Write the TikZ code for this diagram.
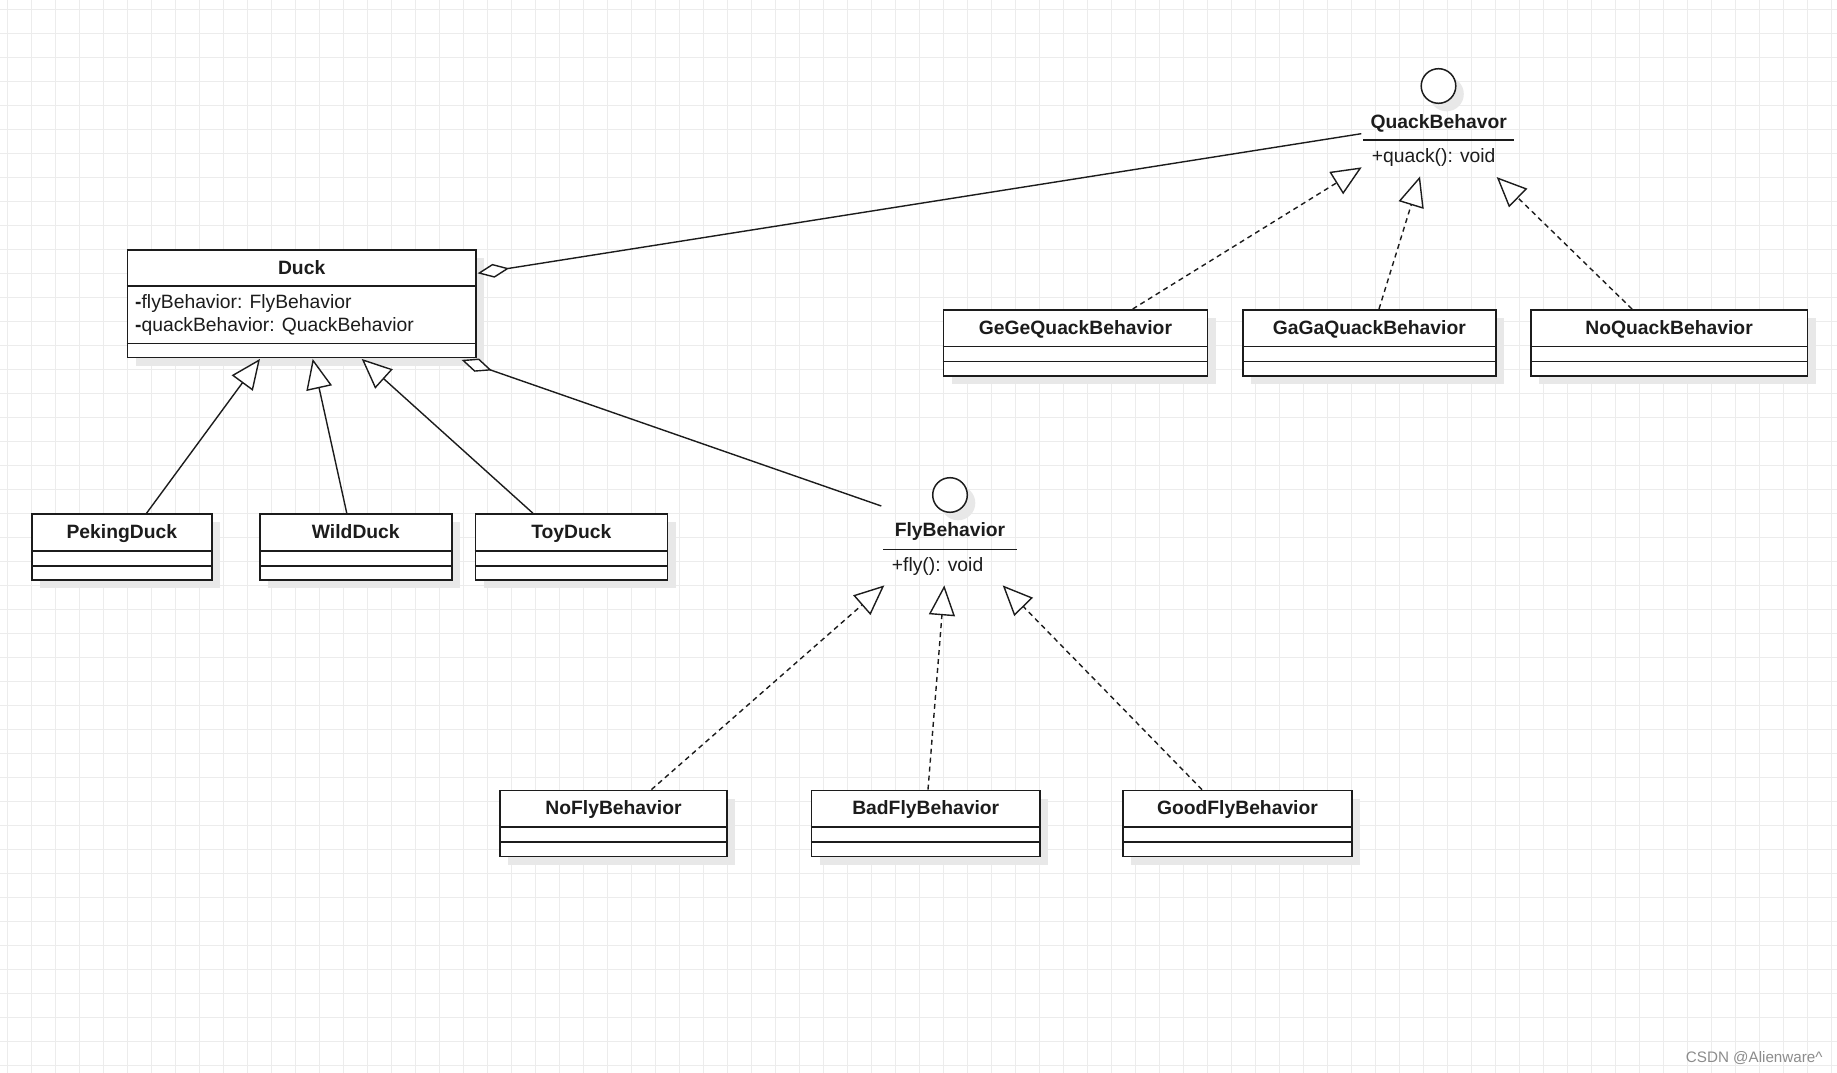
\documentclass[tikz,border=0pt]{standalone}
\usepackage{fontspec}
\setmainfont{Liberation Sans}
\usetikzlibrary{arrows.meta,calc}
\definecolor{gridc}{HTML}{ECECEC}
\definecolor{shadc}{HTML}{E8E8E8}
\definecolor{inkc}{HTML}{1C1C1C}
\tikzset{
  clsbox/.style={draw=inkc, line width=1.6pt, fill=white, inner sep=0pt, anchor=north west, minimum height=66pt},
  sepline/.style={draw=inkc, line width=1.4pt},
  clsname/.style={inner sep=0pt, anchor=base, font=\fontsize{19.3pt}{23pt}\selectfont\bfseries, text=inkc},
  clsattr/.style={inner sep=0pt, anchor=base west, font=\fontsize{19.3pt}{23pt}\selectfont, text=inkc},
  shad/.style={fill=shadc},
  conn/.style={draw=inkc, line width=1.4pt},
  inh/.style={conn, -{Triangle[open, fill=white, length=30pt, width=26pt]}},
  real/.style={conn, dash pattern=on 5pt off 4pt, -{Triangle[open, fill=white, length=30pt, width=26pt, line width=1.4pt]}},
  aggr/.style={conn, {Diamond[open, fill=white, length=32pt, width=14pt]}-},
  iface/.style={draw=none, inner sep=0pt, anchor=north west},
  ifcircle/.style={circle, draw=inkc, line width=1.5pt, fill=white, inner sep=0pt, minimum size=34.6pt},
}
\newcommand\UMLclass[5]{% name, x, y, width, label
  \fill[shad] (#2+9,#3+9) rectangle (#2+#4+9,#3+66+9);
  \node[clsbox, minimum width=#4pt] (#1) at (#2,#3) {};
  \node[clsname] at ($(#1.north)+(0,25)$) {#5};
  \draw[sepline] ($(#1.north west)+(0,37.5)$) -- ($(#1.north east)+(0,37.5)$);
  \draw[sepline] ($(#1.north west)+(0,52.5)$) -- ($(#1.north east)+(0,52.5)$);
}
\begin{document}
\begin{tikzpicture}[x=1pt,y=-1pt]
\useasboundingbox (0,0) rectangle (1837,1073);
\fill[white] (0,0) rectangle (1837,1073);
% grid
\foreach \k in {0,...,76} \draw[gridc, line width=1pt] (7.3+24*\k,0) -- (7.3+24*\k,1073);
\foreach \k in {0,...,44} \draw[gridc, line width=1pt] (0,9.3+24*\k) -- (1837,9.3+24*\k);

% Duck
\fill[shad] (126.7+9,249.3+9) rectangle (475+9,356.7+9);
\node[clsbox, minimum width=348.3pt, minimum height=107.4pt] (duck) at (126.7,249.3) {};
\node[clsname] at ($(duck.north)+(0,25)$) {Duck};
\draw[sepline] ($(duck.north west)+(0,36.7)$) -- ($(duck.north east)+(0,36.7)$);
\draw[sepline] ($(duck.north west)+(0,94)$) -- ($(duck.north east)+(0,94)$);
\node[clsattr] (duckfa) at ($(duck.north west)+(8.3,59)$) {\textbf{-}flyBehavior: FlyBehavior};
\node[clsattr] (duckqa) at ($(duck.north west)+(8.3,81.7)$) {\textbf{-}quackBehavior: QuackBehavior};

% subclasses of Duck
\UMLclass{pek}{31}{513.3}{180}{PekingDuck}
\UMLclass{wild}{259}{513.3}{192}{WildDuck}
\UMLclass{toy}{474.5}{513.3}{192}{ToyDuck}

% quack behaviours
\UMLclass{gege}{942.7}{309}{264}{GeGeQuackBehavior}
\UMLclass{gaga}{1242}{309}{253}{GaGaQuackBehavior}
\UMLclass{noq}{1530}{309}{276.6}{NoQuackBehavior}

% fly behaviours
\UMLclass{nofly}{499}{789.6}{227.4}{NoFlyBehavior}
\UMLclass{bad}{810.7}{789.6}{228.5}{BadFlyBehavior}
\UMLclass{good}{1122.4}{789.6}{228.5}{GoodFlyBehavior}

% QuackBehavor interface
\node[iface, minimum width=150.7pt, minimum height=107.3pt] (quack) at (1363.3,68.7) {};
\fill[shadc] (1446.5,94) circle (17.3);
\node[ifcircle] (quackc) at (1438.5,86) {};
\node[clsname] (quackn) at (1438.7,128.3) {QuackBehavor};
\draw[sepline] ($(quack.north west)+(0,71.3)$) -- ($(quack.north east)+(0,71.3)$);
\node[clsattr] (quackm) at ($(quack.north west)+(8.4,94)$) {+quack(): void};

% FlyBehavior interface
\node[iface, minimum width=133.4pt, minimum height=107.3pt] (fly) at (883.3,477.7) {};
\fill[shadc] (958,503) circle (17.3);
\node[ifcircle] (flyc) at (950,495) {};
\node[clsname] (flyn) at (950,536.7) {FlyBehavior};
\draw[sepline] ($(fly.north west)+(0,71.6)$) -- ($(fly.north east)+(0,71.6)$);
\node[clsattr] (flym) at ($(fly.north west)+(8.4,93.3)$) {+fly(): void};

% aggregations
\draw[aggr] ($(duck.north east)+(1,24)$) -- ($(quack.north west)+(-2,65)$);
\draw[aggr] ($(duck.south east)+(-15,1.6)$) -- ($(fly.north west)+(-2,28.3)$);

% generalisations
\draw[inh] ($(pek.north west)+(115.5,0)$) -- ($(duck.south west)+(133.3,0.6)$);
\draw[inh] ($(wild.north west)+(87.8,0)$) -- ($(duck.south west)+(186,0.6)$);
\draw[inh] ($(toy.north west)+(58.5,0)$) -- ($(duck.south west)+(235,0.6)$);

% realisations
\draw[real] ($(gege.north west)+(190,0)$) -- ($(quack.north west)+(-1.6,98.6)$);
\draw[real] ($(gaga.north west)+(137,0)$) -- ($(quack.south west)+(56.7,0)$);
\draw[real] ($(noq.north west)+(102,0)$) -- ($(quack.south west)+(133.4,0.7)$);
\draw[real] ($(nofly.north west)+(152.4,0)$) -- ($(fly.south west)+(1,0)$);
\draw[real] ($(bad.north west)+(117.3,0)$) -- ($(fly.south west)+(61,0)$);
\draw[real] ($(good.north west)+(79.6,0)$) -- ($(fly.south west)+(119.4,0)$);

% watermark
\node[inner sep=0pt, anchor=base west, font=\fontsize{15.2pt}{18pt}\selectfont, text=black!45] (wm) at (1685.7,1062.3) {CSDN @Alienware\^{}};
\end{tikzpicture}
\end{document}
